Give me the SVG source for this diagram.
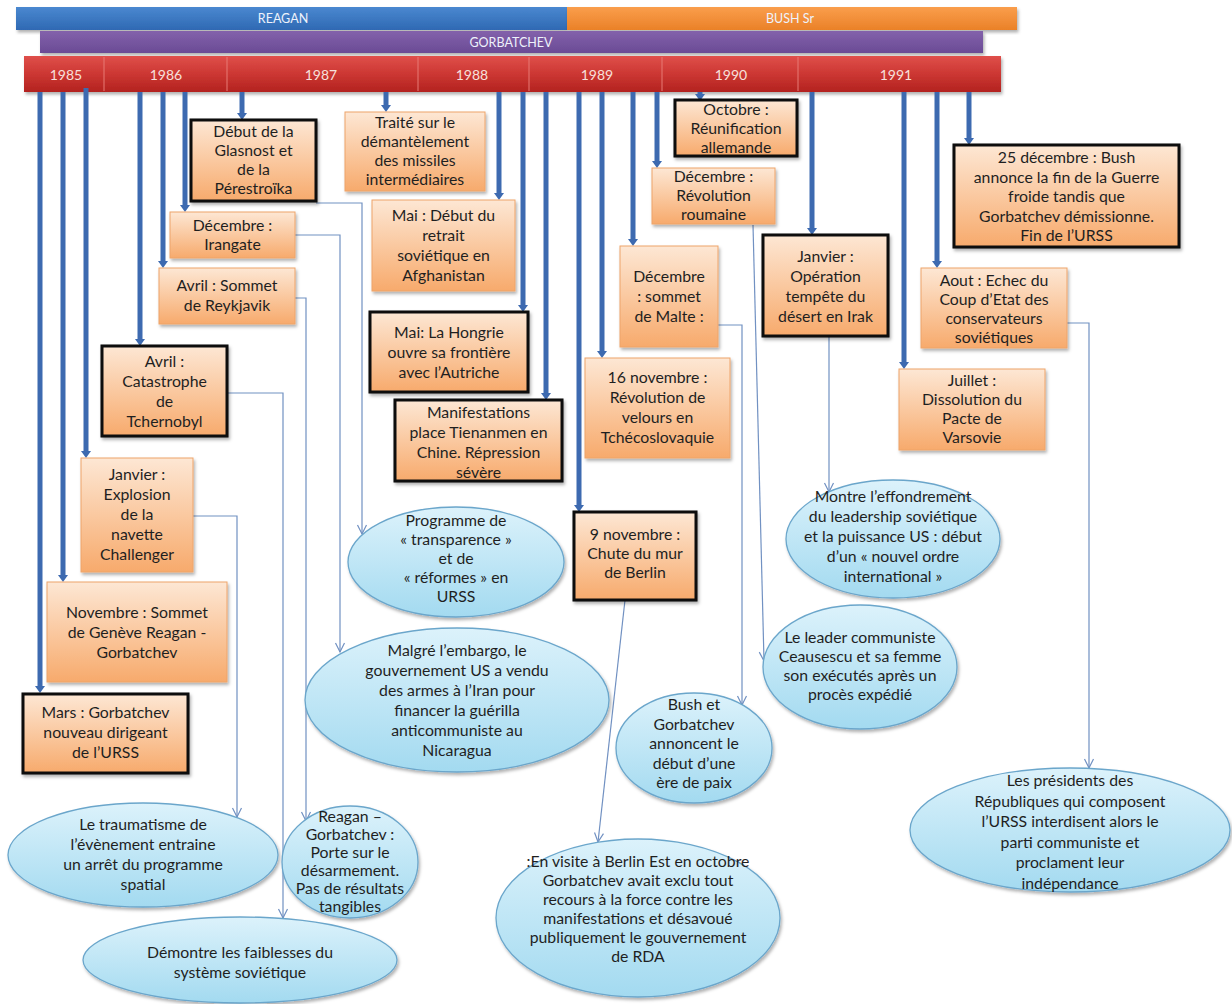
<svg xmlns="http://www.w3.org/2000/svg" width="1232" height="1004" viewBox="0 0 1232 1004">
  <defs>
    <linearGradient id="gBox" x1="0" y1="0" x2="0" y2="1">
      <stop offset="0" stop-color="#fde7d4"/>
      <stop offset="1" stop-color="#f7aa6c"/>
    </linearGradient>
    <linearGradient id="gEl" x1="0" y1="0" x2="0" y2="1">
      <stop offset="0" stop-color="#dcf2fb"/>
      <stop offset="1" stop-color="#a3daf0"/>
    </linearGradient>
    <linearGradient id="gBlue" x1="0" y1="0" x2="0" y2="1">
      <stop offset="0" stop-color="#4a88d0"/>
      <stop offset="1" stop-color="#2f69b3"/>
    </linearGradient>
    <linearGradient id="gOrange" x1="0" y1="0" x2="0" y2="1">
      <stop offset="0" stop-color="#fa9e4c"/>
      <stop offset="1" stop-color="#ea8128"/>
    </linearGradient>
    <linearGradient id="gPurple" x1="0" y1="0" x2="0" y2="1">
      <stop offset="0" stop-color="#8361ab"/>
      <stop offset="1" stop-color="#6a4b95"/>
    </linearGradient>
    <linearGradient id="gRed" x1="0" y1="0" x2="0" y2="1">
      <stop offset="0" stop-color="#df4f4a"/>
      <stop offset="0.5" stop-color="#cc3733"/>
      <stop offset="1" stop-color="#b3221f"/>
    </linearGradient>
    <filter id="sh" x="-10%" y="-10%" width="125%" height="130%">
      <feDropShadow dx="1.5" dy="2.5" stdDeviation="1.8" flood-color="#000" flood-opacity="0.3"/>
    </filter>
    <!-- solid head for the timeline drops -->
    <marker id="ah" markerUnits="userSpaceOnUse" markerWidth="8" markerHeight="10" refX="0" refY="5" orient="auto">
      <path d="M0,0 L7,5 L0,10 z" fill="#3d6ab0"/>
    </marker>
    <!-- open head for the explanation links -->
    <marker id="av" markerUnits="userSpaceOnUse" markerWidth="12" markerHeight="12" refX="10" refY="6" orient="auto">
      <path d="M1,1.5 L10,6 L1,10.5" fill="none" stroke="#7191c2" stroke-width="1.2"/>
    </marker>
  </defs>
  <style>
    text { font-family: Lato, "Liberation Sans", sans-serif; }
    .t { font-size: 15.8px; fill: #1f1f1f; text-anchor: middle; }
    .bar { font-size: 12.5px; fill: #eef2fb; text-anchor: middle; }
    .yr { font-size: 14px; fill: #f7e0dc; text-anchor: middle; }
    .bx { fill: url(#gBox); stroke: #eea46a; stroke-width: 1; filter: url(#sh); }
    .bk { fill: url(#gBox); stroke: #0d0d0d; stroke-width: 3; filter: url(#sh); }
    .el { fill: url(#gEl); stroke: #6ba6cb; stroke-width: 1.3; filter: url(#sh); }
    .tl { stroke: #3d6ab0; stroke-width: 5; fill: none; marker-end: url(#ah); }
    .cn { stroke: #7191c2; stroke-width: 1.2; fill: none; marker-end: url(#av); }
    .sep { stroke: #e77a75; stroke-width: 1; }
  </style>

  <rect x="0" y="0" width="1232" height="1004" fill="#ffffff"/>

  <!-- presidencies and years -->
  <g id="bars">
    <rect x="16" y="7" width="551" height="23" fill="url(#gBlue)" filter="url(#sh)"/>
    <text class="bar" x="283" y="23">REAGAN</text>
    <rect x="567" y="7" width="450" height="23" fill="url(#gOrange)" filter="url(#sh)"/>
    <text class="bar" x="790" y="23">BUSH Sr</text>
    <rect x="40" y="31" width="943" height="22" fill="url(#gPurple)" filter="url(#sh)"/>
    <text class="bar" x="511" y="47">GORBATCHEV</text>
    <rect x="24" y="56" width="977" height="36" fill="url(#gRed)" filter="url(#sh)"/>
    <line class="sep" x1="104" y1="57" x2="104" y2="91"/>
    <line class="sep" x1="227" y1="57" x2="227" y2="91"/>
    <line class="sep" x1="418" y1="57" x2="418" y2="91"/>
    <line class="sep" x1="529" y1="57" x2="529" y2="91"/>
    <line class="sep" x1="662" y1="57" x2="662" y2="91"/>
    <line class="sep" x1="798" y1="57" x2="798" y2="91"/>
    <text class="yr" x="66" y="80">1985</text>
    <text class="yr" x="166" y="80">1986</text>
    <text class="yr" x="321" y="80">1987</text>
    <text class="yr" x="472" y="80">1988</text>
    <text class="yr" x="597" y="80">1989</text>
    <text class="yr" x="731" y="80">1990</text>
    <text class="yr" x="896" y="80">1991</text>
  </g>

  <!-- connectors: timeline drops and explanation links -->
  <g id="connectors">
    <line class="tl" x1="40" y1="92" x2="40" y2="686"/>
    <line class="tl" x1="63" y1="92" x2="63" y2="575"/>
    <line class="tl" x1="86" y1="88" x2="86" y2="451"/>
    <line class="tl" x1="140" y1="92" x2="140" y2="339"/>
    <line class="tl" x1="163" y1="92" x2="163" y2="261"/>
    <line class="tl" x1="185" y1="92" x2="185" y2="205"/>
    <line class="tl" x1="242" y1="92" x2="242" y2="113"/>
    <line class="tl" x1="386" y1="92" x2="386" y2="105"/>
    <line class="tl" x1="499" y1="92" x2="499" y2="193"/>
    <line class="tl" x1="523" y1="92" x2="523" y2="305"/>
    <line class="tl" x1="546" y1="92" x2="546" y2="393"/>
    <line class="tl" x1="579" y1="92" x2="579" y2="505"/>
    <line class="tl" x1="602" y1="92" x2="602" y2="351"/>
    <line class="tl" x1="633" y1="92" x2="633" y2="239"/>
    <line class="tl" x1="657" y1="92" x2="657" y2="161"/>
    <line class="tl" x1="700" y1="92" x2="700" y2="94"/>
    <line class="tl" x1="812" y1="92" x2="812" y2="228"/>
    <line class="tl" x1="904" y1="92" x2="904" y2="362"/>
    <line class="tl" x1="937" y1="92" x2="937" y2="261"/>
    <line class="tl" x1="969" y1="92" x2="969" y2="138"/>

    <polyline class="cn" points="316,203 362,203 362,534"/>
    <polyline class="cn" points="295,235 340,235 340,652"/>
    <polyline class="cn" points="295,298 306,298 306,821"/>
    <polyline class="cn" points="227,393 283,393 283,918"/>
    <polyline class="cn" points="193,516 237,516 237,817"/>
    <polyline class="cn" points="718,325 742,325 742,705"/>
    <polyline class="cn" points="753,225 764,661"/>
    <polyline class="cn" points="829,337 829,492"/>
    <polyline class="cn" points="1067,323 1089,323 1089,768"/>
    <polyline class="cn" points="625,600 598,842"/>
  </g>

  <!-- events -->
  <g id="n-glasnost">
    <rect class="bk" x="191" y="120" width="125" height="81"/>
    <text class="t"><tspan x="253.5" y="137">Début de la</tspan><tspan x="253.5" y="156">Glasnost et</tspan><tspan x="253.5" y="175">de la</tspan><tspan x="253.5" y="194">Pérestroïka</tspan></text>
  </g>
  <g id="n-traite">
    <rect class="bx" x="345" y="112" width="140" height="79"/>
    <text class="t"><tspan x="415" y="128">Traité sur le</tspan><tspan x="415" y="147">démantèlement</tspan><tspan x="415" y="166">des missiles</tspan><tspan x="415" y="185">intermédiaires</tspan></text>
  </g>
  <g id="n-irangate">
    <rect class="bx" x="170" y="212" width="125" height="46"/>
    <text class="t"><tspan x="232.5" y="231">Décembre :</tspan><tspan x="232.5" y="250">Irangate</tspan></text>
  </g>
  <g id="n-reykjavik">
    <rect class="bx" x="159" y="268" width="136" height="56"/>
    <text class="t"><tspan x="227" y="291">Avril : Sommet</tspan><tspan x="227" y="311">de Reykjavik</tspan></text>
  </g>
  <g id="n-tchernobyl">
    <rect class="bk" x="102" y="346" width="125" height="90"/>
    <text class="t"><tspan x="164.5" y="367">Avril :</tspan><tspan x="164.5" y="387">Catastrophe</tspan><tspan x="164.5" y="407">de</tspan><tspan x="164.5" y="427">Tchernobyl</tspan></text>
  </g>
  <g id="n-challenger">
    <rect class="bx" x="81" y="458" width="112" height="114"/>
    <text class="t"><tspan x="137" y="480">Janvier :</tspan><tspan x="137" y="500">Explosion</tspan><tspan x="137" y="520">de la</tspan><tspan x="137" y="540">navette</tspan><tspan x="137" y="560">Challenger</tspan></text>
  </g>
  <g id="n-geneve">
    <rect class="bx" x="47" y="582" width="180" height="100"/>
    <text class="t"><tspan x="137" y="618">Novembre : Sommet</tspan><tspan x="137" y="638">de Genève Reagan -</tspan><tspan x="137" y="658">Gorbatchev</tspan></text>
  </g>
  <g id="n-mars">
    <rect class="bk" x="23" y="694" width="165" height="79"/>
    <text class="t"><tspan x="105.5" y="718">Mars : Gorbatchev</tspan><tspan x="105.5" y="738">nouveau dirigeant</tspan><tspan x="105.5" y="758">de l’URSS</tspan></text>
  </g>
  <g id="n-afghanistan">
    <rect class="bx" x="372" y="200" width="143" height="91"/>
    <text class="t"><tspan x="443.5" y="221">Mai : Début du</tspan><tspan x="443.5" y="241">retrait</tspan><tspan x="443.5" y="261">soviétique en</tspan><tspan x="443.5" y="281">Afghanistan</tspan></text>
  </g>
  <g id="n-hongrie">
    <rect class="bk" x="370" y="312" width="158" height="80"/>
    <text class="t"><tspan x="449" y="338">Mai: La Hongrie</tspan><tspan x="449" y="358">ouvre sa frontière</tspan><tspan x="449" y="378">avec l’Autriche</tspan></text>
  </g>
  <g id="n-tienanmen">
    <rect class="bk" x="395" y="400" width="167" height="81"/>
    <text class="t"><tspan x="478.5" y="418">Manifestations</tspan><tspan x="478.5" y="438">place Tienanmen en</tspan><tspan x="478.5" y="458">Chine. Répression</tspan><tspan x="478.5" y="478">sévère</tspan></text>
  </g>
  <g id="n-berlin">
    <rect class="bk" x="574" y="512" width="122" height="88"/>
    <text class="t"><tspan x="635" y="540">9 novembre :</tspan><tspan x="635" y="559">Chute du mur</tspan><tspan x="635" y="578">de Berlin</tspan></text>
  </g>
  <g id="n-velours">
    <rect class="bx" x="585" y="358" width="145" height="100"/>
    <text class="t"><tspan x="657.5" y="383">16 novembre :</tspan><tspan x="657.5" y="403">Révolution de</tspan><tspan x="657.5" y="423">velours en</tspan><tspan x="657.5" y="443">Tchécoslovaquie</tspan></text>
  </g>
  <g id="n-malte">
    <rect class="bx" x="620" y="246" width="98" height="101"/>
    <text class="t"><tspan x="669" y="282">Décembre</tspan><tspan x="669" y="302">: sommet</tspan><tspan x="669" y="322">de Malte :</tspan></text>
  </g>
  <g id="n-roumaine">
    <rect class="bx" x="652" y="168" width="123" height="56"/>
    <text class="t"><tspan x="713.5" y="182">Décembre :</tspan><tspan x="713.5" y="201">Révolution</tspan><tspan x="713.5" y="220">roumaine</tspan></text>
  </g>
  <g id="n-reunification">
    <rect class="bk" x="675" y="100" width="122" height="56"/>
    <text class="t"><tspan x="736" y="115">Octobre :</tspan><tspan x="736" y="134">Réunification</tspan><tspan x="736" y="153">allemande</tspan></text>
  </g>
  <g id="n-irak">
    <rect class="bk" x="763" y="235" width="125" height="101"/>
    <text class="t"><tspan x="825.5" y="262">Janvier :</tspan><tspan x="825.5" y="282">Opération</tspan><tspan x="825.5" y="302">tempête du</tspan><tspan x="825.5" y="322">désert en Irak</tspan></text>
  </g>
  <g id="n-varsovie">
    <rect class="bx" x="899" y="369" width="146" height="81"/>
    <text class="t"><tspan x="972" y="386">Juillet :</tspan><tspan x="972" y="405">Dissolution du</tspan><tspan x="972" y="424">Pacte de</tspan><tspan x="972" y="443">Varsovie</tspan></text>
  </g>
  <g id="n-putsch">
    <rect class="bx" x="921" y="268" width="146" height="80"/>
    <text class="t"><tspan x="994" y="286">Aout : Echec du</tspan><tspan x="994" y="305">Coup d’Etat des</tspan><tspan x="994" y="324">conservateurs</tspan><tspan x="994" y="343">soviétiques</tspan></text>
  </g>
  <g id="n-fin">
    <rect class="bk" x="954" y="145" width="225" height="102"/>
    <text class="t"><tspan x="1066.5" y="163">25 décembre : Bush</tspan><tspan x="1066.5" y="182.5">annonce la fin de la Guerre</tspan><tspan x="1066.5" y="202">froide tandis que</tspan><tspan x="1066.5" y="221.5">Gorbatchev démissionne.</tspan><tspan x="1066.5" y="241">Fin de l’URSS</tspan></text>
  </g>

  <!-- explanations -->
  <g id="e-glasnost">
    <ellipse class="el" cx="456" cy="562" rx="108" ry="55"/>
    <text class="t"><tspan x="456" y="526">Programme de</tspan><tspan x="456" y="545">« transparence »</tspan><tspan x="456" y="564">et de</tspan><tspan x="456" y="583">« réformes » en</tspan><tspan x="456" y="602">URSS</tspan></text>
  </g>
  <g id="e-irangate">
    <ellipse class="el" cx="457" cy="700" rx="152" ry="72"/>
    <text class="t"><tspan x="457" y="655.5">Malgré l’embargo,  le</tspan><tspan x="457" y="675.5">gouvernement US a vendu</tspan><tspan x="457" y="695.5">des armes à l’Iran pour</tspan><tspan x="457" y="715.5">financer la guérilla</tspan><tspan x="457" y="735.5">anticommuniste au</tspan><tspan x="457" y="755.5">Nicaragua</tspan></text>
  </g>
  <g id="e-challenger">
    <ellipse class="el" cx="143" cy="855" rx="135" ry="52"/>
    <text class="t"><tspan x="143" y="830">Le traumatisme de</tspan><tspan x="143" y="850">l’évènement entraine</tspan><tspan x="143" y="870">un arrêt du programme</tspan><tspan x="143" y="890">spatial</tspan></text>
  </g>
  <g id="e-reykjavik">
    <ellipse class="el" cx="350" cy="862" rx="68" ry="56"/>
    <text class="t"><tspan x="350" y="821.5">Reagan –</tspan><tspan x="350" y="839.5">Gorbatchev :</tspan><tspan x="350" y="857.5">Porte sur le</tspan><tspan x="350" y="875.5">désarmement.</tspan><tspan x="350" y="893.5">Pas de résultats</tspan><tspan x="350" y="911.5">tangibles</tspan></text>
  </g>
  <g id="e-tchernobyl">
    <ellipse class="el" cx="240" cy="960" rx="157" ry="43"/>
    <text class="t"><tspan x="240" y="958">Démontre les faiblesses du</tspan><tspan x="240" y="978">système soviétique</tspan></text>
  </g>
  <g id="e-malte">
    <ellipse class="el" cx="694" cy="748" rx="78" ry="55"/>
    <text class="t"><tspan x="694" y="710">Bush et</tspan><tspan x="694" y="729.5">Gorbatchev</tspan><tspan x="694" y="749">annoncent le</tspan><tspan x="694" y="768.5">début d’une</tspan><tspan x="694" y="788">ère de paix</tspan></text>
  </g>
  <g id="e-irak">
    <ellipse class="el" cx="893" cy="539" rx="107" ry="59"/>
    <text class="t"><tspan x="893" y="502">Montre l’effondrement</tspan><tspan x="893" y="522">du leadership soviétique</tspan><tspan x="893" y="542">et la puissance US : début</tspan><tspan x="893" y="562">d’un « nouvel ordre</tspan><tspan x="893" y="582">international »</tspan></text>
  </g>
  <g id="e-roumaine">
    <ellipse class="el" cx="860" cy="667" rx="97" ry="62"/>
    <text class="t"><tspan x="860" y="642.5">Le leader communiste</tspan><tspan x="860" y="661.5">Ceausescu et sa femme</tspan><tspan x="860" y="680.5">son exécutés après un</tspan><tspan x="860" y="699.5">procès expédié</tspan></text>
  </g>
  <g id="e-berlin">
    <ellipse class="el" cx="638" cy="918" rx="142" ry="79"/>
    <text class="t"><tspan x="638" y="867">:En visite à Berlin Est en octobre</tspan><tspan x="638" y="886">Gorbatchev avait exclu tout</tspan><tspan x="638" y="905">recours à la force contre les</tspan><tspan x="638" y="924">manifestations  et désavoué</tspan><tspan x="638" y="943">publiquement le gouvernement</tspan><tspan x="638" y="962">de RDA</tspan></text>
  </g>
  <g id="e-putsch">
    <ellipse class="el" cx="1070" cy="830" rx="160" ry="62"/>
    <text class="t"><tspan x="1070" y="786">Les présidents des</tspan><tspan x="1070" y="806.5">Républiques qui composent</tspan><tspan x="1070" y="827">l’URSS interdisent alors le</tspan><tspan x="1070" y="847.5">parti communiste et</tspan><tspan x="1070" y="868">proclament leur</tspan><tspan x="1070" y="888.5">indépendance</tspan></text>
  </g>
</svg>
